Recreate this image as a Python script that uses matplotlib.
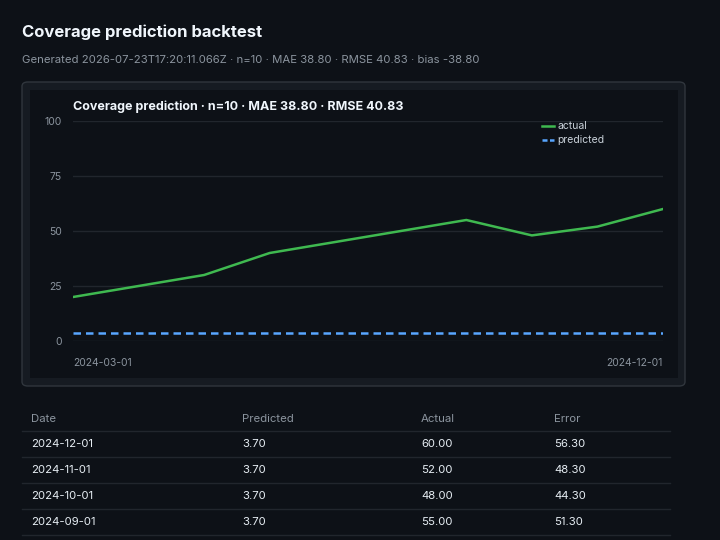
import matplotlib.pyplot as plt
from matplotlib.patches import FancyBboxPatch
from matplotlib.lines import Line2D

dates = ['2024-03-01', '2024-04-01', '2024-05-01', '2024-06-01', '2024-07-01',
         '2024-08-01', '2024-09-01', '2024-10-01', '2024-11-01', '2024-12-01']
actual = [20, 25, 30, 40, 45, 50, 55, 48, 52, 60]
predicted = [3.7] * 10

table_dates = ['2024-12-01', '2024-11-01', '2024-10-01', '2024-09-01']
table_pred = [3.70, 3.70, 3.70, 3.70]
table_act = [60.00, 52.00, 48.00, 55.00]

BG = '#0d1117'
CARD = '#161b22'
W, H = 720, 540

plt.rcParams['font.family'] = ['Inter', 'DejaVu Sans']
fig = plt.figure(figsize=(7.2, 5.4), dpi=100, facecolor=BG)


def fy(py):
    return 1 - py / H


def fx(px):
    return px / W


fig.text(fx(22), fy(32), 'Coverage prediction backtest', color='#f0f6fc',
         fontsize=12, fontweight='bold', va='center')
fig.text(fx(22), fy(60), 'Generated 2026-07-23T17:20:11.066Z · n=10 · MAE 38.80 · RMSE 40.83 · bias -38.80',
         color='#8b949e', fontsize=8.2, va='center')

# card
fig.patches.append(FancyBboxPatch((fx(22), fy(386)), fx(663), 304 / H,
                                  boxstyle='round,pad=0,rounding_size=0.008',
                                  transform=fig.transFigure, facecolor=CARD,
                                  edgecolor='#30363d', linewidth=1, zorder=0))
fig.patches.append(plt.Rectangle((fx(30), fy(378)), fx(648), 288 / H,
                                 transform=fig.transFigure, facecolor=BG,
                                 edgecolor='none', zorder=0.5))

ax = fig.add_axes([fx(73), fy(341), fx(590), 220 / H])
ax.set_zorder(2)
ax.patch.set_alpha(0)
x = list(range(len(dates)))
ax.plot(x, actual, color='#3fb950', lw=1.8)
ax.plot(x, predicted, color='#58a6ff', lw=1.8, ls=(0, (3, 2)))
ax.set_xlim(0, 9)
ax.set_ylim(0, 100)
ax.set_yticks([0, 25, 50, 75, 100])
ax.grid(axis='y', color='#21262d', lw=1)
ax.set_axisbelow(True)
for s in ax.spines.values():
    s.set_visible(False)
ax.tick_params(axis='y', length=0, colors='#8b949e', labelsize=7.5, pad=8)
ax.set_xticks([])
ax.text(0, -0.1, dates[0], transform=ax.transAxes, color='#8b949e', fontsize=7.5, ha='left', va='center')
ax.text(1, -0.1, dates[-1], transform=ax.transAxes, color='#8b949e', fontsize=7.5, ha='right', va='center')
ax.set_title('Coverage prediction · n=10 · MAE 38.80 · RMSE 40.83', loc='left',
             color='#f0f6fc', fontsize=9, fontweight='bold', pad=8)

# legend
for py, c, ls, lab in [(126, '#3fb950', '-', 'actual'), (140, '#58a6ff', (0, (2, 1)), 'predicted')]:
    fig.add_artist(Line2D([fx(542), fx(554)], [fy(py), fy(py)], color=c, lw=1.8, ls=ls,
                          transform=fig.transFigure, zorder=3))
    fig.text(fx(557), fy(py), lab, color='#c9d1d9', fontsize=7.5, va='center', zorder=3)

# table
cols = [31, 242, 421, 554]
for cx, h in zip(cols, ['Date', 'Predicted', 'Actual', 'Error']):
    fig.text(fx(cx), fy(419), h, color='#8b949e', fontsize=8.2, va='center')
for i, (d, p, a) in enumerate(zip(table_dates, table_pred, table_act)):
    py = 444 + 26 * i
    vals = [d, f'{p:.2f}', f'{a:.2f}', f'{a - p:.2f}']
    for cx, v in zip(cols, vals):
        fig.text(fx(cx), fy(py), v, color='#e6edf3', fontsize=8.2, va='center')
for i in range(5):
    ly = 431 + 26 * i
    fig.add_artist(Line2D([fx(22), fx(670)], [fy(ly), fy(ly)], color='#21262d', lw=1,
                          transform=fig.transFigure))

fig.savefig('out.png', dpi=100, facecolor=BG)
